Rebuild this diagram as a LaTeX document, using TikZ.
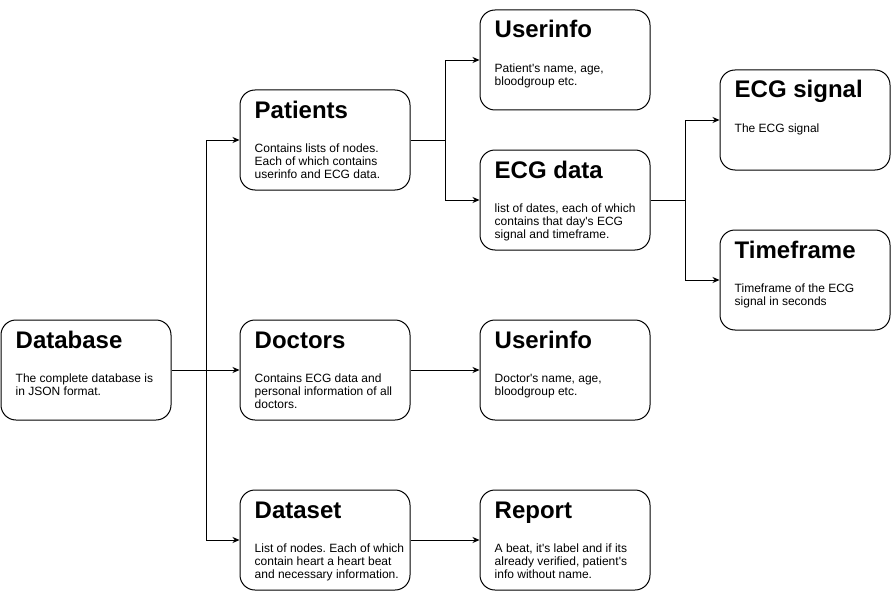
\documentclass[tikz,border=0pt]{standalone}
\usepackage{fontspec}
\setmainfont{Liberation Sans}[Ligatures=TeXOff]
\frenchspacing
\usetikzlibrary{arrows.meta,positioning,calc}
\tikzset{
  block/.style={draw, rounded corners=15pt, line width=1pt, minimum width=170pt, minimum height=100pt, inner sep=0pt},
  heading/.style={anchor=base west, inner sep=0pt, font=\fontsize{24}{28}\selectfont\bfseries},
  desc/.style={anchor=north west, inner sep=0pt, align=left, font=\fontsize{12}{13}\selectfont},
  link/.style={line width=0.8pt, -{Stealth[length=7pt,width=6pt]}},
}
\begin{document}
\begin{tikzpicture}[x=1pt,y=-1pt]
    \useasboundingbox (0,0) rectangle (891,591);
    % boxes
    \node[block] (db) at (86,370) {};
    \node[block] (pat) at (325,140) {};
    \node[block] (doc) at (325,370) {};
    \node[block] (set) at (325,540) {};
    \node[block] (pinfo) at (565,60) {};
    \node[block] (ecg) at (565,200) {};
    \node[block] (dinfo) at (565,370) {};
    \node[block] (rep) at (565,540) {};
    \node[block] (sig) at (805,120) {};
    \node[block] (tf) at (805,280) {};
    % headings
    \node[heading] at ([shift={(15,28.5)}]db.north west) {Database};
    \node[heading] at ([shift={(15,28.5)}]pat.north west) {Patients};
    \node[heading] at ([shift={(15,28.5)}]doc.north west) {Doctors};
    \node[heading] at ([shift={(15,28.5)}]set.north west) {Dataset};
    \node[heading] at ([shift={(15,28.5)}]pinfo.north west) {Userinfo};
    \node[heading] at ([shift={(15,28.5)}]ecg.north west) {ECG data};
    \node[heading] at ([shift={(15,28.5)}]dinfo.north west) {Userinfo};
    \node[heading] at ([shift={(15,28.5)}]rep.north west) {Report};
    \node[heading] at ([shift={(15,28.5)}]sig.north west) {ECG signal};
    \node[heading] at ([shift={(15,28.5)}]tf.north west) {Timeframe};
    % descriptions
    \node[desc] at ([shift={(15,54.5)}]db.north west) {The complete database is\\in JSON format.};
    \node[desc] at ([shift={(15,54.5)}]pat.north west) {Contains lists of nodes.\\Each of which contains\\userinfo and ECG data.};
    \node[desc] at ([shift={(15,54.5)}]doc.north west) {Contains ECG data and\\personal information of all\\doctors.};
    \node[desc] at ([shift={(15,54.5)}]set.north west) {List of nodes. Each of which\\contain heart a heart beat\\and necessary information.};
    \node[desc] at ([shift={(15,54.5)}]pinfo.north west) {Patient's name, age,\\bloodgroup etc.};
    \node[desc] at ([shift={(15,54.5)}]ecg.north west) {list of dates, each of which\\contains that day's ECG\\signal and timeframe.};
    \node[desc] at ([shift={(15,54.5)}]dinfo.north west) {Doctor's name, age,\\bloodgroup etc.};
    \node[desc] at ([shift={(15,54.5)}]rep.north west) {A beat, it's label and if its\\already verified, patient's\\info without name.};
    \node[desc] at ([shift={(15,54.5)}]sig.north west) {The ECG signal};
    \node[desc] at ([shift={(15,54.5)}]tf.north west) {Timeframe of the ECG\\signal in seconds};
    % connectors
    \coordinate (dbfork) at ($(db.east)+(35,0)$);
    \coordinate (patfork) at ($(pat.east)+(35,0)$);
    \coordinate (ecgfork) at ($(ecg.east)+(35,0)$);
    \draw[link] (db.east) -- (dbfork) |- (pat.west);
    \draw[link] (dbfork) -- (doc.west);
    \draw[link] (dbfork) |- (set.west);
    \draw[link] (pat.east) -- (patfork) |- (pinfo.west);
    \draw[link] (patfork) |- (ecg.west);
    \draw[link] (ecg.east) -- (ecgfork) |- (sig.west);
    \draw[link] (ecgfork) |- (tf.west);
    \draw[link] (doc) -- (dinfo);
    \draw[link] (set) -- (rep);
\end{tikzpicture}
\end{document}
